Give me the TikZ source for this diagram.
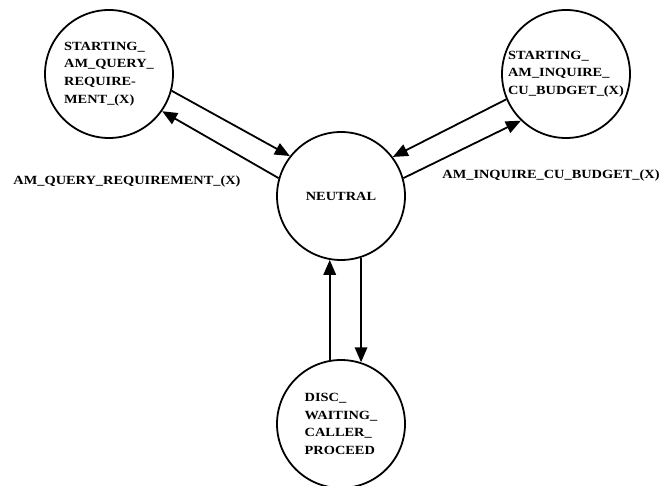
\documentclass[tikz,border=0pt]{standalone}
\usepackage{fontspec}
\setmainfont{Liberation Serif}[FakeStretch=1.15]
\usetikzlibrary{arrows.meta}
\begin{document}
\begin{tikzpicture}[x=1pt,y=-1pt,
  state/.style={circle,draw,line width=1.8pt,minimum size=128pt,inner sep=0pt,align=left,
    font=\fontsize{12.5}{17.8}\selectfont\bfseries},
  lbl/.style={font=\fontsize{12.5}{15}\selectfont\bfseries,inner sep=0pt},
  conn/.style={line width=1.8pt,-{Triangle[length=15pt,width=12.5pt]}}]
\useasboundingbox (0,0) rectangle (664,486);
\node[state] (tl) at (109,74) {STARTING\_\\AM\_QUERY\_\\REQUIRE-\\MENT\_(X)};
\node[state] (tr) at (566,74) {STARTING\_\\AM\_INQUIRE\_\\CU\_BUDGET\_(X)};
\node[state] (n) at (341,196) {NEUTRAL};
\node[state] (b) at (341,424) {DISC\_\\WAITING\_\\CALLER\_\\PROCEED};
\node[lbl] (l1) at (127,181) {AM\_QUERY\_REQUIREMENT\_(X)};
\node[lbl] (l2) at (551,175) {AM\_INQUIRE\_CU\_BUDGET\_(X)};
\draw[conn] (tl.-15.7) -- (n.142.6);
\draw[conn] (n.164) -- (tl.-35.8);
\draw[conn] (tr.203.1) -- (n.37.2);
\draw[conn] (n.16.5) -- (tr.226.2);
\draw[conn] (b.100.8) -- (n.-100.8);
\draw[conn] (n.-72.7) -- (b.72.7);
\end{tikzpicture}
\end{document}
